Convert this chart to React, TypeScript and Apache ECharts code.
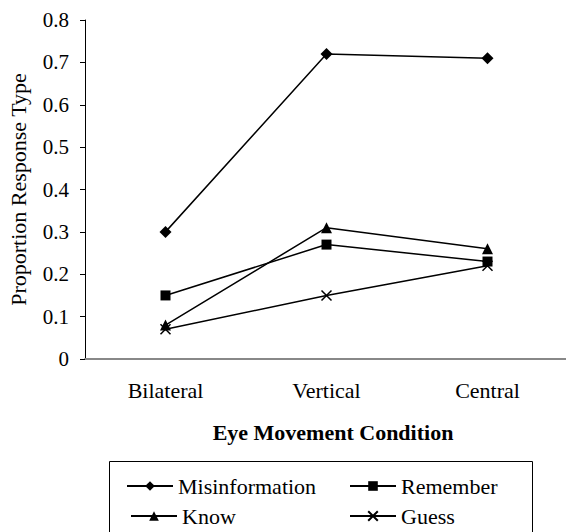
import React, { useEffect, useRef } from "react";
import * as echarts from "echarts";

const categories = ["Bilateral", "Vertical", "Central"];
const misinformation = [0.3, 0.72, 0.71];
const remember = [0.15, 0.27, 0.23];
const know = [0.08, 0.31, 0.26];
const guess = [0.07, 0.15, 0.22];
const yTicks = { min: 0, max: 0.8, interval: 0.1 };

const FONT = '"Liberation Serif", "Times New Roman", serif';
const X_PATH = "path://M0,0L10,10M10,0L0,10";

export default function App() {
  const ref = useRef<HTMLDivElement>(null);
  useEffect(() => {
    const chart = echarts.init(ref.current!, null, { renderer: "svg" });
    const mk = (name: string, data: number[], symbol: string, size: number, extra: any = {}) => ({
      name,
      type: "line",
      data,
      symbol,
      symbolSize: size,
      lineStyle: { color: "#000", width: 1.5 },
      itemStyle: { color: "#000", ...extra },
      emphasis: { disabled: true },
    });
    const legendItem = (name: string, left: number, top: number) => ({
      data: [name],
      left,
      top,
      padding: 0,
      itemWidth: 46,
      itemHeight: 12,
      textStyle: { fontFamily: FONT, fontSize: 22, color: "#000", padding: [0, 0, 0, 0] },
      selectedMode: false,
    });
    chart.setOption({
      animation: false,
      textStyle: { fontFamily: FONT },
      grid: {
        left: 85,
        top: 20,
        width: 483,
        height: 339,
        containLabel: false,
        outerBoundsMode: "none",
      },
      xAxis: {
        type: "category",
        data: categories,
        boundaryGap: true,
        axisLine: { lineStyle: { color: "#888", width: 2 } },
        axisTick: { length: 6, lineStyle: { color: "#000", width: 1 } },
        axisLabel: { color: "#000", fontSize: 22, fontFamily: FONT, margin: 20 },
      },
      yAxis: {
        type: "value",
        min: yTicks.min,
        max: yTicks.max,
        interval: yTicks.interval,
        name: "Proportion Response Type",
        nameLocation: "middle",
        nameGap: 56,
        nameTextStyle: { color: "#000", fontSize: 22, fontFamily: FONT },
        splitLine: { show: false },
        axisLine: { show: true, lineStyle: { color: "#000", width: 1 } },
        axisTick: { show: true, length: 5, lineStyle: { color: "#000" } },
        axisLabel: { color: "#000", fontSize: 21, fontFamily: FONT, margin: 16 },
      },
      legend: [
        legendItem("Misinformation", 126, 475),
        legendItem("Remember", 349, 475),
        legendItem("Know", 130, 505),
        legendItem("Guess", 349, 505),
      ],
      graphic: [
        {
          type: "rect",
          shape: { x: 109.5, y: 461.5, width: 423, height: 90 },
          style: { fill: "none", stroke: "#000", lineWidth: 1 },
          silent: true,
        },
        {
          type: "text",
          x: 333,
          y: 432,
          style: {
            text: "Eye Movement Condition",
            font: `bold 22px ${FONT}`,
            fill: "#000",
            textAlign: "center",
            textVerticalAlign: "middle",
          },
          silent: true,
        },
      ],
      series: [
        mk("Misinformation", misinformation, "diamond", 12),
        mk("Remember", remember, "rect", 10),
        mk("Know", know, "triangle", 11),
        mk("Guess", guess, X_PATH, 10, { borderColor: "#000", borderWidth: 1.5 }),
      ],
    });
    return () => chart.dispose();
  }, []);
  return (
    <div
      ref={ref}
      style={{ position: "fixed", left: 0, top: 0, width: 566, height: 532, background: "#fff" }}
    />
  );
}
